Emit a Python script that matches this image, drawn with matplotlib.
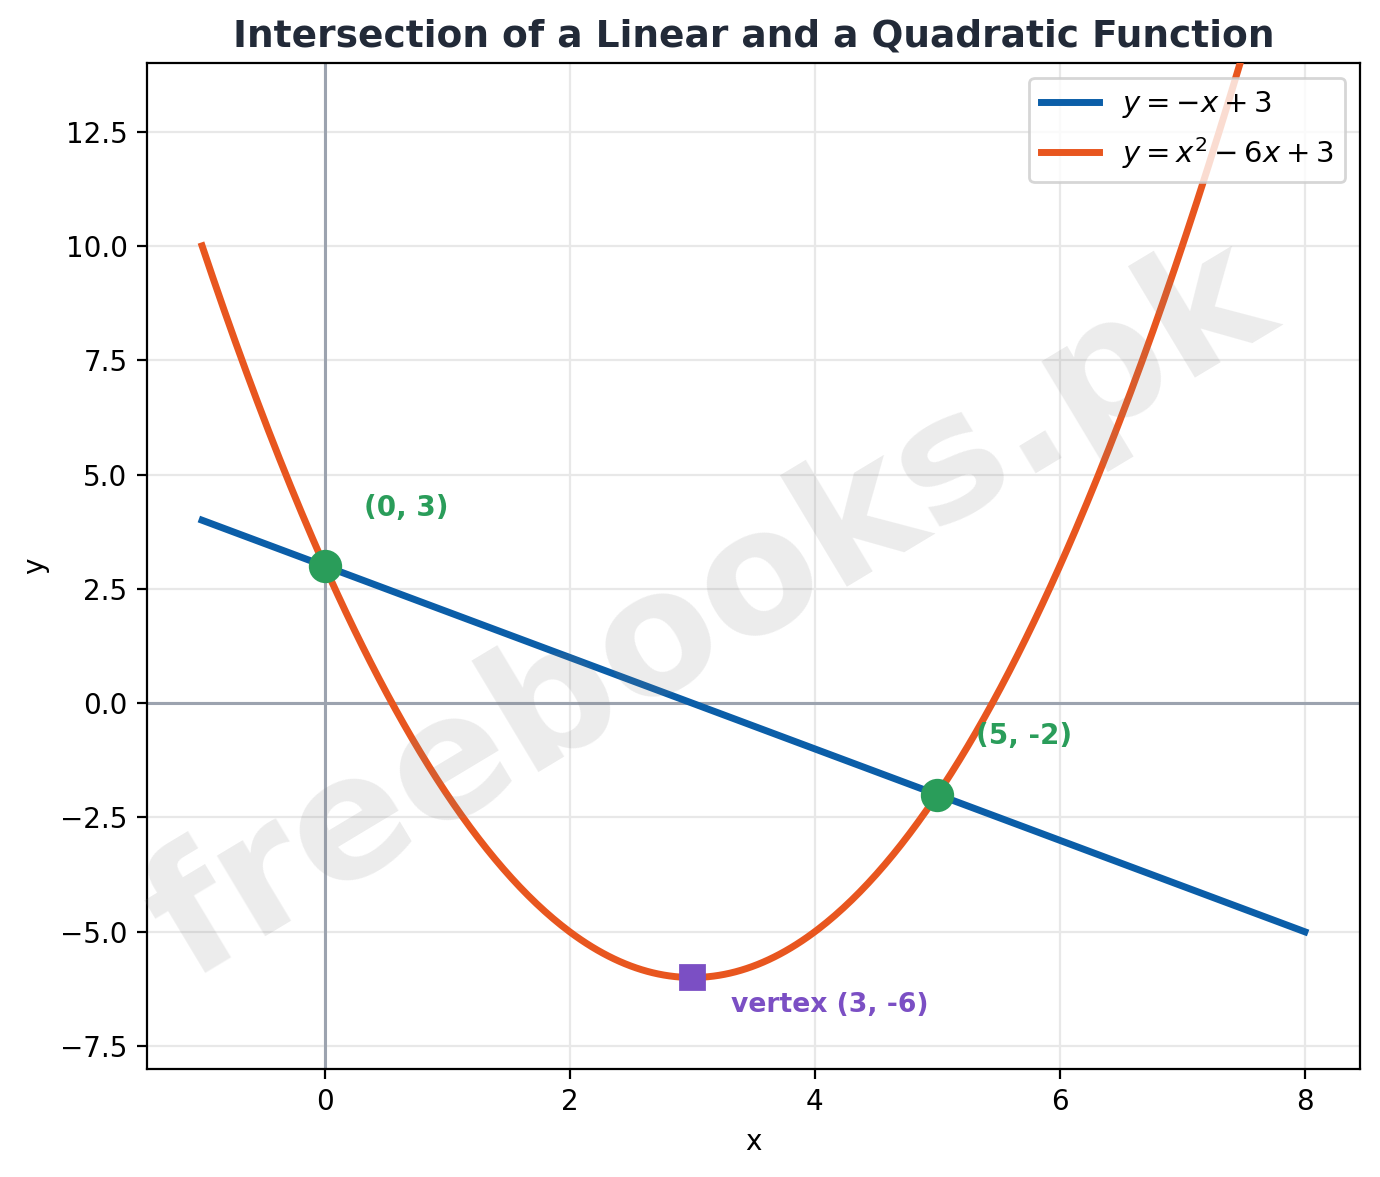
import matplotlib
matplotlib.use("Agg")
import matplotlib.pyplot as plt
import numpy as np

# line y = m*x + c and parabola y = a*x^2 + b*x + c
line_slope = -1
line_icept = 3
quad_coefs = [1, -6, 3]
x_range = [-1, 8]

points_x = [0, 5]
points_y = [3, -2]
point_labels = ["(0, 3)", "(5, -2)"]
vertex = (3, -6)
vertex_label = "vertex (3, -6)"

BLUE = "#0b5ea8"
ORANGE = "#e8561f"
GREEN = "#2a9d5a"
PURPLE = "#7b4fc4"

x = np.linspace(x_range[0], x_range[1], 400)
y_line = line_slope * x + line_icept
y_quad = np.polyval(quad_coefs, x)

fig, ax = plt.subplots(figsize=(6.9, 5.885), dpi=200)
fig.subplots_adjust(left=0.1065, right=0.9855, top=0.9465, bottom=0.0918)

ax.axhline(0, color="#9ca3af", lw=1.1, zorder=1)
ax.axvline(0, color="#9ca3af", lw=1.1, zorder=1)
ax.grid(True, color="#e8e8e8", lw=0.8, zorder=0)
ax.set_axisbelow(True)

ax.plot(x, y_line, color=BLUE, lw=2.5, label=r"$y = -x + 3$", zorder=3)
ax.plot(x, y_quad, color=ORANGE, lw=2.5, label=r"$y = x^2 - 6x + 3$", zorder=3)

ax.plot(points_x, points_y, "o", color=GREEN, ms=11, zorder=5)
for px, py, lab in zip(points_x, points_y, point_labels):
    ax.annotate(lab, (px, py), xytext=(14, 21), textcoords="offset points",
                ha="left", va="center", color=GREEN, fontweight="bold", fontsize=10)

ax.plot([vertex[0]], [vertex[1]], "s", color=PURPLE, ms=8.5, zorder=5)
ax.annotate(vertex_label, vertex, xytext=(14, -10), textcoords="offset points",
            ha="left", va="center", color=PURPLE, fontweight="bold", fontsize=9.6)

ax.set_ylim(-8, 14)
ax.set_xlabel("x")
ax.set_ylabel("y")
ax.set_title("Intersection of a Linear and a Quadratic Function",
             fontsize=13.5, fontweight="bold", color="#222a38")
ax.legend(loc="upper right", fontsize=10.5)

# watermark
fig.text(0.515, 0.48, "freebooks.pk", fontsize=62, fontweight="bold",
         color="gray", alpha=0.15, rotation=31, ha="center", va="center", zorder=10)

fig.savefig("out.png", dpi=200)
